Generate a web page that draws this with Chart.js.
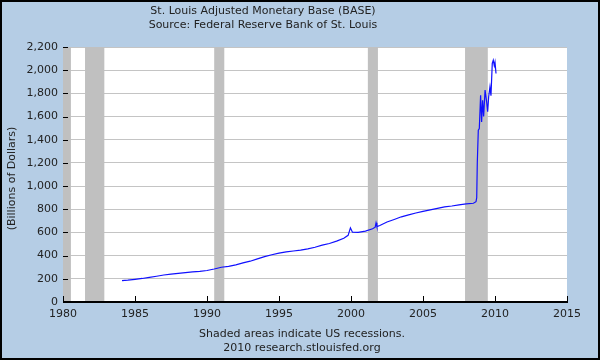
<!DOCTYPE html>
<html>
<head>
<meta charset="utf-8">
<script src="https://cdn.jsdelivr.net/npm/chart.js@4/dist/chart.umd.min.js"></script>
<style>
    body { margin: 0; background: #fff; }
    #wrap { width: 600px; height: 360px; position: relative; }
</style>
</head>
<body>
<div id="wrap"><canvas id="chart" width="600" height="360"></canvas></div>
<script>
// DATA
let years = [1984.1, 1984.5, 1985.0, 1985.5, 1986.0, 1986.5, 1987.0, 1987.5, 1988.0, 1988.5,
    1989.0, 1989.5, 1990.0, 1990.5, 1991.0, 1991.5, 1992.0, 1992.5, 1993.0, 1993.5,
    1994.0, 1994.5, 1995.0, 1995.5, 1996.0, 1996.5, 1997.0, 1997.5, 1998.0, 1998.5,
    1999.0, 1999.5, 1999.8, 1999.96, 2000.1, 2000.5, 2001.0, 2001.5, 2001.68, 2001.74, 2001.8,
    2002.0, 2002.5, 2003.0, 2003.5, 2004.0, 2004.5, 2005.0, 2005.5, 2006.0, 2006.5,
    2007.0, 2007.5, 2008.0, 2008.5, 2008.68, 2008.73, 2008.77, 2008.84, 2008.91, 2009.0,
    2009.07, 2009.14, 2009.21, 2009.31, 2009.42, 2009.49, 2009.56, 2009.65, 2009.72,
    2009.81, 2009.88, 2009.95, 2010.0, 2010.07];
let baseValues = [184, 188, 196, 203, 212, 222, 233, 240, 247, 254,
    260, 264, 272, 285, 300, 308, 320, 338, 352, 372,
    392, 408, 422, 432, 440, 447, 458, 472, 490, 505,
    525, 550, 575, 640, 602, 600, 612, 632, 645, 683, 650,
    660, 690, 712, 735, 752, 768, 782, 795, 808, 820,
    828, 838, 846, 852, 865, 900, 1200, 1483, 1497, 1784,
    1554, 1741, 1600, 1828, 1727, 1641, 1770, 1856, 1780,
    2058, 2086, 2040, 2070, 1971];
let yTicks = [0, 200, 400, 600, 800, 1000, 1200, 1400, 1600, 1800, 2000, 2200];
let xTicks = [1980, 1985, 1990, 1995, 2000, 2005, 2010, 2015];
// recession start / end, decimal years
let recessionStarts = [1980.0, 1981.53, 1990.5, 2001.17, 2007.92];
let recessionEnds = [1980.55, 1982.87, 1991.2, 2001.87, 2009.5];

let titleLines = ["St. Louis Adjusted Monetary Base (BASE)", "Source: Federal Reserve Bank of St. Louis"];
let footLines = ["Shaded areas indicate US recessions.", "2010 research.stlouisfed.org"];
let yLabel = "(Billions of Dollars)";

let fontFamily = "'DejaVu Sans', Verdana, sans-serif";
let textColor = "#222";

let points = [];
for (let i = 0; i < years.length; i++) {
    points.push({x: years[i], y: baseValues[i]});
}

// background and white plot area
let backgroundPlugin = {
    id: "background",
    beforeDraw(chart) {
        let ctx = chart.ctx;
        let area = chart.chartArea;
        ctx.save();
        ctx.fillStyle = "#b5cde5";
        ctx.fillRect(0, 0, chart.width, chart.height);
        ctx.fillStyle = "#ffffff";
        ctx.fillRect(area.left, area.top, area.right - area.left, area.bottom - area.top);
        ctx.restore();
    },
    // recession bars sit over the grid lines
    beforeDatasetsDraw(chart) {
        let ctx = chart.ctx;
        let area = chart.chartArea;
        let xScale = chart.scales.x;
        ctx.save();
        ctx.fillStyle = "#c0c0c0";
        for (let i = 0; i < recessionStarts.length; i++) {
            let x1 = xScale.getPixelForValue(recessionStarts[i]);
            let x2 = xScale.getPixelForValue(recessionEnds[i]);
            ctx.fillRect(x1, area.top, x2 - x1, area.bottom - area.top - 1);
        }
        ctx.restore();
    }
};

// titles, inside tick marks and frame
let decorPlugin = {
    id: "decor",
    afterDraw(chart) {
        let ctx = chart.ctx;
        let area = chart.chartArea;
        ctx.save();
        ctx.fillStyle = textColor;
        ctx.font = "11px " + fontFamily;
        ctx.textAlign = "center";
        ctx.textBaseline = "middle";
        ctx.fillText(titleLines[0], 263, 11);
        ctx.fillText(titleLines[1], 263, 25);
        ctx.fillText(footLines[0], 302, 334);
        ctx.fillText(footLines[1], 302, 348);

        ctx.save();
        ctx.translate(12, (area.top + area.bottom) / 2 + 4);
        ctx.rotate(-Math.PI / 2);
        ctx.fillText(yLabel, 0, 0);
        ctx.restore();

        // tick marks pointing into the plot
        ctx.strokeStyle = "#000";
        ctx.lineWidth = 1;
        ctx.beginPath();
        for (let v of yTicks) {
            let y = Math.round(chart.scales.y.getPixelForValue(v)) + 0.5;
            ctx.moveTo(area.left, y);
            ctx.lineTo(area.left + 5, y);
        }
        for (let v of xTicks) {
            let x = Math.round(chart.scales.x.getPixelForValue(v)) + 0.5;
            ctx.moveTo(x, area.bottom);
            ctx.lineTo(x, area.bottom - 6);
        }
        ctx.stroke();

        // x axis line, a bit heavier
        ctx.lineWidth = 2;
        ctx.beginPath();
        ctx.moveTo(area.left, area.bottom);
        ctx.lineTo(area.right + 1, area.bottom);
        ctx.stroke();

        // outer frame
        ctx.strokeStyle = "#000";
        ctx.lineWidth = 2;
        ctx.strokeRect(1, 1, chart.width - 2, chart.height - 2);
        ctx.restore();
    }
};

let ctx = document.getElementById("chart").getContext("2d");
let chart = new Chart(ctx, {
    type: "line",
    data: {
        datasets: [{
            label: "BASE",
            data: points,
            borderColor: "#1010ff",
            borderWidth: 1.2,
            pointRadius: 0,
            tension: 0,
            fill: false
        }]
    },
    options: {
        responsive: false,
        animation: false,
        layout: {
            padding: {left: 0, top: 47, right: 33, bottom: 0}
        },
        plugins: {
            legend: {display: false},
            tooltip: {enabled: false}
        },
        scales: {
            x: {
                type: "linear",
                min: 1980,
                max: 2015,
                afterBuildTicks: (scale) => {
                    scale.ticks = xTicks.map(v => ({value: v}));
                },
                afterFit: (scale) => {
                    scale.height = 58;
                },
                grid: {display: false, drawTicks: false},
                border: {display: true, color: "#000", width: 1},
                ticks: {
                    color: textColor,
                    font: {family: fontFamily, size: 11},
                    padding: 6,
                    maxRotation: 0,
                    callback: (v) => String(v)
                }
            },
            y: {
                min: 0,
                max: 2200,
                afterBuildTicks: (scale) => {
                    scale.ticks = yTicks.map(v => ({value: v}));
                },
                afterFit: (scale) => {
                    scale.width = 63;
                },
                grid: {color: "#c4c4c4", drawTicks: false},
                border: {display: true, color: "#000", width: 1},
                ticks: {
                    color: textColor,
                    font: {family: fontFamily, size: 11},
                    padding: 5,
                    callback: (v) => v.toLocaleString("en-US")
                }
            }
        }
    },
    plugins: [backgroundPlugin, decorPlugin]
});
</script>
</body>
</html>
